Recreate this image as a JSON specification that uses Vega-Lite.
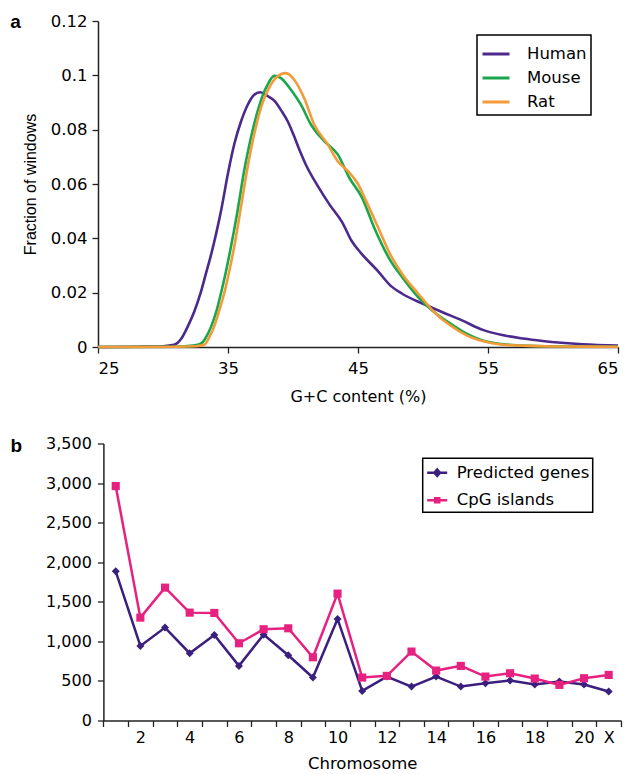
{
  "$schema": "https://vega.github.io/schema/vega-lite/v6.json",
  "background": "white",
  "padding": {"left": 10, "top": 13, "right": 0, "bottom": 0},
  "spacing": 30.5,
  "resolve": {"scale": {"color": "independent"}, "legend": {"color": "independent"}},
  "config": {
    "font": "DejaVu Sans",
    "view": {"stroke": null},
    "axis": {"domainColor": "#222", "tickColor": "#222", "domainWidth": 1.5, "tickWidth": 1.3, "tickSize": 6, "grid": false, "labelColor": "black", "titleColor": "black", "titleFontWeight": "normal", "labelFont": "DejaVu Sans", "titleFont": "DejaVu Sans"},
    "title": {"anchor": "start", "frame": "bounds", "baseline": "alphabetic", "fontSize": 19, "fontWeight": "bold", "offset": 0, "color": "black", "font": "Liberation Sans"},
    "legend": {"strokeColor": "black", "fillColor": "white", "labelFont": "DejaVu Sans", "labelColor": "black", "title": null}
  },
  "vconcat": [
    {
      "title": {"text": "a", "dy": 23, "dx": -12},
      "width": 520,
      "height": 326,
      "data": {"values": [
        {"gc": 25, "frac": 0, "species": "Human"},
        {"gc": 28, "frac": 0.0001, "species": "Human"},
        {"gc": 30, "frac": 0.0003, "species": "Human"},
        {"gc": 30.85, "frac": 0.0008, "species": "Human"},
        {"gc": 31.4, "frac": 0.003, "species": "Human"},
        {"gc": 31.9, "frac": 0.0075, "species": "Human"},
        {"gc": 32.4, "frac": 0.013, "species": "Human"},
        {"gc": 32.9, "frac": 0.02, "species": "Human"},
        {"gc": 33.3, "frac": 0.027, "species": "Human"},
        {"gc": 33.7, "frac": 0.034, "species": "Human"},
        {"gc": 34.1, "frac": 0.042, "species": "Human"},
        {"gc": 34.5, "frac": 0.051, "species": "Human"},
        {"gc": 35.0, "frac": 0.064, "species": "Human"},
        {"gc": 35.5, "frac": 0.075, "species": "Human"},
        {"gc": 36.0, "frac": 0.083, "species": "Human"},
        {"gc": 36.5, "frac": 0.089, "species": "Human"},
        {"gc": 37.0, "frac": 0.0928, "species": "Human"},
        {"gc": 37.5, "frac": 0.0938, "species": "Human"},
        {"gc": 38.0, "frac": 0.0925, "species": "Human"},
        {"gc": 38.6, "frac": 0.0905, "species": "Human"},
        {"gc": 39.1, "frac": 0.087, "species": "Human"},
        {"gc": 39.6, "frac": 0.083, "species": "Human"},
        {"gc": 40.05, "frac": 0.078, "species": "Human"},
        {"gc": 40.5, "frac": 0.0725, "species": "Human"},
        {"gc": 41.0, "frac": 0.067, "species": "Human"},
        {"gc": 41.9, "frac": 0.0593, "species": "Human"},
        {"gc": 42.8, "frac": 0.0525, "species": "Human"},
        {"gc": 43.8, "frac": 0.0458, "species": "Human"},
        {"gc": 44.5, "frac": 0.0391, "species": "Human"},
        {"gc": 45.3, "frac": 0.0342, "species": "Human"},
        {"gc": 46.5, "frac": 0.0281, "species": "Human"},
        {"gc": 47.5, "frac": 0.0226, "species": "Human"},
        {"gc": 48.4, "frac": 0.0196, "species": "Human"},
        {"gc": 50.0, "frac": 0.0159, "species": "Human"},
        {"gc": 51.5, "frac": 0.0128, "species": "Human"},
        {"gc": 53.0, "frac": 0.0098, "species": "Human"},
        {"gc": 54.6, "frac": 0.0063, "species": "Human"},
        {"gc": 56.1, "frac": 0.0044, "species": "Human"},
        {"gc": 57.7, "frac": 0.0031, "species": "Human"},
        {"gc": 59.2, "frac": 0.0022, "species": "Human"},
        {"gc": 62.3, "frac": 0.001, "species": "Human"},
        {"gc": 65, "frac": 0.0005, "species": "Human"},
        {"gc": 25, "frac": 0, "species": "Mouse"},
        {"gc": 31, "frac": 0.0001, "species": "Mouse"},
        {"gc": 32.3, "frac": 0.0005, "species": "Mouse"},
        {"gc": 32.9, "frac": 0.0012, "species": "Mouse"},
        {"gc": 33.3, "frac": 0.0035, "species": "Mouse"},
        {"gc": 33.7, "frac": 0.0075, "species": "Mouse"},
        {"gc": 34.1, "frac": 0.013, "species": "Mouse"},
        {"gc": 34.45, "frac": 0.0196, "species": "Mouse"},
        {"gc": 34.85, "frac": 0.028, "species": "Mouse"},
        {"gc": 35.22, "frac": 0.0367, "species": "Mouse"},
        {"gc": 35.73, "frac": 0.05, "species": "Mouse"},
        {"gc": 36.24, "frac": 0.0648, "species": "Mouse"},
        {"gc": 36.76, "frac": 0.077, "species": "Mouse"},
        {"gc": 37.28, "frac": 0.0868, "species": "Mouse"},
        {"gc": 37.7, "frac": 0.093, "species": "Mouse"},
        {"gc": 38.05, "frac": 0.0966, "species": "Mouse"},
        {"gc": 38.55, "frac": 0.0998, "species": "Mouse"},
        {"gc": 39.07, "frac": 0.099, "species": "Mouse"},
        {"gc": 39.84, "frac": 0.0947, "species": "Mouse"},
        {"gc": 40.61, "frac": 0.0892, "species": "Mouse"},
        {"gc": 41.38, "frac": 0.0819, "species": "Mouse"},
        {"gc": 42.4, "frac": 0.0758, "species": "Mouse"},
        {"gc": 43.44, "frac": 0.0709, "species": "Mouse"},
        {"gc": 44.33, "frac": 0.0623, "species": "Mouse"},
        {"gc": 45.31, "frac": 0.055, "species": "Mouse"},
        {"gc": 46.24, "frac": 0.044, "species": "Mouse"},
        {"gc": 47.47, "frac": 0.032, "species": "Mouse"},
        {"gc": 48.4, "frac": 0.0257, "species": "Mouse"},
        {"gc": 49.64, "frac": 0.0183, "species": "Mouse"},
        {"gc": 50.87, "frac": 0.0128, "species": "Mouse"},
        {"gc": 52.11, "frac": 0.0086, "species": "Mouse"},
        {"gc": 53.35, "frac": 0.0049, "species": "Mouse"},
        {"gc": 54.58, "frac": 0.0024, "species": "Mouse"},
        {"gc": 55.82, "frac": 0.0012, "species": "Mouse"},
        {"gc": 57.67, "frac": 0.0005, "species": "Mouse"},
        {"gc": 60, "frac": 0.0002, "species": "Mouse"},
        {"gc": 65, "frac": 0.0001, "species": "Mouse"},
        {"gc": 25, "frac": 0, "species": "Rat"},
        {"gc": 31, "frac": 0.0001, "species": "Rat"},
        {"gc": 32.5, "frac": 0.0003, "species": "Rat"},
        {"gc": 33.16, "frac": 0.0008, "species": "Rat"},
        {"gc": 33.55, "frac": 0.0035, "species": "Rat"},
        {"gc": 33.93, "frac": 0.0075, "species": "Rat"},
        {"gc": 34.3, "frac": 0.013, "species": "Rat"},
        {"gc": 34.7, "frac": 0.0196, "species": "Rat"},
        {"gc": 35.1, "frac": 0.028, "species": "Rat"},
        {"gc": 35.47, "frac": 0.0367, "species": "Rat"},
        {"gc": 35.99, "frac": 0.0513, "species": "Rat"},
        {"gc": 36.5, "frac": 0.066, "species": "Rat"},
        {"gc": 37.01, "frac": 0.0782, "species": "Rat"},
        {"gc": 37.53, "frac": 0.088, "species": "Rat"},
        {"gc": 38.3, "frac": 0.0966, "species": "Rat"},
        {"gc": 39.07, "frac": 0.1004, "species": "Rat"},
        {"gc": 39.46, "frac": 0.1008, "species": "Rat"},
        {"gc": 40.09, "frac": 0.0984, "species": "Rat"},
        {"gc": 40.86, "frac": 0.0916, "species": "Rat"},
        {"gc": 41.63, "frac": 0.0819, "species": "Rat"},
        {"gc": 42.67, "frac": 0.0746, "species": "Rat"},
        {"gc": 43.44, "frac": 0.0684, "species": "Rat"},
        {"gc": 44.21, "frac": 0.0648, "species": "Rat"},
        {"gc": 45.0, "frac": 0.06, "species": "Rat"},
        {"gc": 45.62, "frac": 0.0538, "species": "Rat"},
        {"gc": 46.55, "frac": 0.044, "species": "Rat"},
        {"gc": 47.47, "frac": 0.0342, "species": "Rat"},
        {"gc": 48.4, "frac": 0.0269, "species": "Rat"},
        {"gc": 49.64, "frac": 0.0196, "species": "Rat"},
        {"gc": 50.87, "frac": 0.0128, "species": "Rat"},
        {"gc": 52.11, "frac": 0.0079, "species": "Rat"},
        {"gc": 53.35, "frac": 0.0043, "species": "Rat"},
        {"gc": 54.58, "frac": 0.0022, "species": "Rat"},
        {"gc": 55.82, "frac": 0.001, "species": "Rat"},
        {"gc": 57.67, "frac": 0.0005, "species": "Rat"},
        {"gc": 60, "frac": 0.0002, "species": "Rat"},
        {"gc": 65, "frac": 0.0001, "species": "Rat"}
      ]},
      "mark": {"type": "line", "interpolate": "monotone", "strokeWidth": 2.6},
      "encoding": {
        "x": {"field": "gc", "type": "quantitative", "scale": {"domain": [25, 65], "nice": false, "zero": false},
              "axis": {"values": [25, 35, 45, 55, 65], "title": "G+C content (%)", "labelFontSize": 16.5, "titleFontSize": 16, "labelPadding": 7, "titlePadding": 12}},
        "y": {"field": "frac", "type": "quantitative", "scale": {"domain": [0, 0.12], "nice": false},
              "axis": {"values": [0, 0.02, 0.04, 0.06, 0.08, 0.1, 0.12], "format": ".2~f", "title": "Fraction of windows", "titleFont": "Liberation Sans", "labelFontSize": 16.5, "titleFontSize": 16, "labelPadding": 5, "titlePadding": 12}},
        "color": {"field": "species", "type": "nominal",
                  "scale": {"domain": ["Human", "Mouse", "Rat"], "range": ["#4b2a8c", "#1aa64a", "#f29b38"]},
                  "legend": {"orient": "none", "legendX": 379, "legendY": 14, "padding": 4, "symbolType": "stroke", "symbolSize": 729, "symbolStrokeWidth": 3, "labelFontSize": 16.5, "labelOffset": 16, "rowPadding": -0.5,
                             "encode": {"legend": {"update": {"strokeWidth": {"value": 1.5}}}}}}
      }
    },
    {
      "title": {"text": "b", "dy": 24, "dx": -35},
      "width": 523,
      "height": 277,
      "data": {"values": [
        {"chrom": "1", "series": "Predicted genes", "n": 1885},
        {"chrom": "2", "series": "Predicted genes", "n": 942},
        {"chrom": "3", "series": "Predicted genes", "n": 1174},
        {"chrom": "4", "series": "Predicted genes", "n": 850},
        {"chrom": "5", "series": "Predicted genes", "n": 1081},
        {"chrom": "6", "series": "Predicted genes", "n": 690},
        {"chrom": "7", "series": "Predicted genes", "n": 1085},
        {"chrom": "8", "series": "Predicted genes", "n": 825},
        {"chrom": "9", "series": "Predicted genes", "n": 543},
        {"chrom": "10", "series": "Predicted genes", "n": 1283},
        {"chrom": "11", "series": "Predicted genes", "n": 374},
        {"chrom": "12", "series": "Predicted genes", "n": 555},
        {"chrom": "13", "series": "Predicted genes", "n": 429},
        {"chrom": "14", "series": "Predicted genes", "n": 555},
        {"chrom": "15", "series": "Predicted genes", "n": 429},
        {"chrom": "16", "series": "Predicted genes", "n": 471},
        {"chrom": "17", "series": "Predicted genes", "n": 505},
        {"chrom": "18", "series": "Predicted genes", "n": 454},
        {"chrom": "19", "series": "Predicted genes", "n": 492},
        {"chrom": "20", "series": "Predicted genes", "n": 454},
        {"chrom": "X", "series": "Predicted genes", "n": 366},
        {"chrom": "1", "series": "CpG islands", "n": 2962},
        {"chrom": "2", "series": "CpG islands", "n": 1300},
        {"chrom": "3", "series": "CpG islands", "n": 1679},
        {"chrom": "4", "series": "CpG islands", "n": 1363},
        {"chrom": "5", "series": "CpG islands", "n": 1359},
        {"chrom": "6", "series": "CpG islands", "n": 976},
        {"chrom": "7", "series": "CpG islands", "n": 1153},
        {"chrom": "8", "series": "CpG islands", "n": 1165},
        {"chrom": "9", "series": "CpG islands", "n": 799},
        {"chrom": "10", "series": "CpG islands", "n": 1603},
        {"chrom": "11", "series": "CpG islands", "n": 543},
        {"chrom": "12", "series": "CpG islands", "n": 564},
        {"chrom": "13", "series": "CpG islands", "n": 871},
        {"chrom": "14", "series": "CpG islands", "n": 631},
        {"chrom": "15", "series": "CpG islands", "n": 690},
        {"chrom": "16", "series": "CpG islands", "n": 555},
        {"chrom": "17", "series": "CpG islands", "n": 597},
        {"chrom": "18", "series": "CpG islands", "n": 530},
        {"chrom": "19", "series": "CpG islands", "n": 450},
        {"chrom": "20", "series": "CpG islands", "n": 534},
        {"chrom": "X", "series": "CpG islands", "n": 576}
      ]},
      "encoding": {
        "x": {"field": "chrom", "type": "ordinal", "bandPosition": 0.5,
              "sort": ["1","2","3","4","5","6","7","8","9","10","11","12","13","14","15","16","17","18","19","20","X"],
              "scale": {"type": "band", "paddingInner": 0, "paddingOuter": 0, "range": [5.4, 523]},
              "axis": {"tickBand": "extent", "labelAngle": 0, "labelExpr": "datum.value === 'X' || toNumber(datum.value) % 2 === 0 ? datum.value : ''", "title": "Chromosome", "labelFontSize": 16, "titleFontSize": 16.5, "labelPadding": 3, "titlePadding": 10}},
        "y": {"field": "n", "type": "quantitative", "scale": {"domain": [0, 3500], "nice": false},
              "axis": {"values": [0, 500, 1000, 1500, 2000, 2500, 3000, 3500], "labelExpr": "format(datum.value, ',')", "title": null, "offset": -5.4, "labelFontSize": 16, "labelPadding": 6}},
        "color": {"field": "series", "type": "nominal",
                  "scale": {"domain": ["Predicted genes", "CpG islands"], "range": ["#3b1f7f", "#e6217f"]},
                  "legend": {"orient": "none", "legendX": 324.7, "legendY": 14.7, "padding": 3, "symbolSize": 400, "symbolStrokeWidth": 2.5, "labelFontSize": 16.5, "labelOffset": 8, "rowPadding": 7.5,
                             "encode": {
                               "legend": {"update": {"strokeWidth": {"value": 1.5}}},
                               "symbols": {"update": {
                               "shape": {"signal": "datum.value === 'CpG islands' ? 'M-1,0H1M-0.2,-0.2H0.2V0.2H-0.2Z' : 'M-1,0H1M0,-0.32L0.28,0L0,0.32L-0.28,0Z'"},
                               "fill": {"signal": "datum.value === 'CpG islands' ? '#e6217f' : '#3b1f7f'"},
                               "stroke": {"signal": "datum.value === 'CpG islands' ? '#e6217f' : '#3b1f7f'"},
                               "opacity": {"value": 1}, "fillOpacity": {"value": 1}}}}}}
      },
      "layer": [
        {"mark": {"type": "line", "strokeWidth": 2.5}},
        {"transform": [{"filter": "datum.series === 'Predicted genes'"}],
         "mark": {"type": "point", "shape": "diamond", "filled": true, "opacity": 1, "size": 64}},
        {"transform": [{"filter": "datum.series === 'CpG islands'"}],
         "mark": {"type": "point", "shape": "square", "filled": true, "opacity": 1, "size": 66}}
      ]
    }
  ]
}
